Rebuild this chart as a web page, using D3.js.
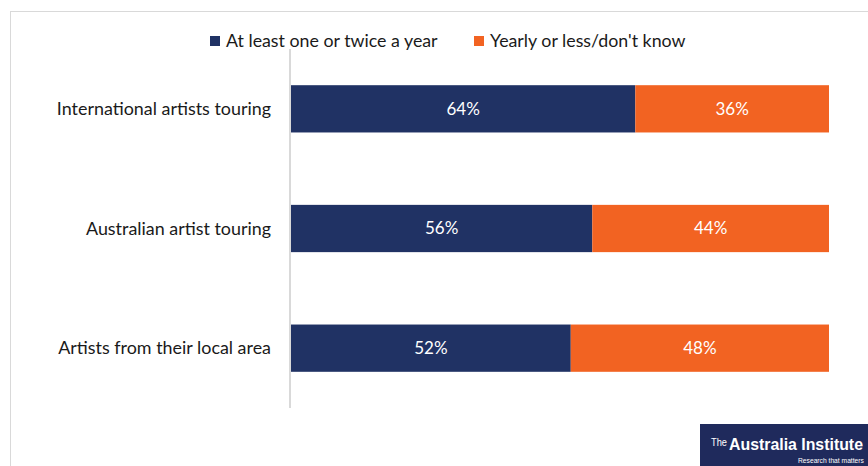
<!DOCTYPE html>
<html>
<head>
<meta charset="utf-8">
<script src="https://cdn.jsdelivr.net/npm/d3@7"></script>
<style>
  html, body { margin: 0; padding: 0; background: #fff; }
  svg { display: block; font-family: Lato, "Open Sans", "Liberation Sans", sans-serif; }
</style>
</head>
<body>
<svg id="chart" width="868" height="466"></svg>
<script>
// Share of respondents by how often they attend, per artist type
const categories = ["International artists touring", "Australian artist touring", "Artists from their local area"];
const seriesNames = ["At least one or twice a year", "Yearly or less/don't know"];
const frequent = [64, 56, 52];
const infrequent = [36, 44, 48];
const colors = ["#203264", "#F26322"];

const svg = d3.select("#chart");
const W = 868, H = 466;

// Outer frame
svg.append("rect").attr("x", 10.5).attr("y", 11.5).attr("width", W).attr("height", H)
  .attr("fill", "none").attr("stroke", "#d9d9d9").attr("stroke-width", 1);

const x = d3.scaleLinear().domain([0, 100]).range([291, 829]);
const y = d3.scaleBand().domain(categories).range([49, 408]).paddingInner(0.605).paddingOuter(0.3025);

// Vertical category axis line
svg.append("line").attr("x1", 290).attr("x2", 290).attr("y1", 49).attr("y2", 408)
  .attr("stroke", "#d9d9d9").attr("stroke-width", 2);

const rows = categories.map((c, i) => ({ cat: c, parts: [
  { v0: 0, v1: frequent[i], val: frequent[i], color: colors[0] },
  { v0: frequent[i], v1: frequent[i] + infrequent[i], val: infrequent[i], color: colors[1] }
]}));

const g = svg.append("g");
rows.forEach(r => {
  const gy = y(r.cat);
  r.parts.forEach(p => {
    g.append("rect").attr("x", x(p.v0)).attr("y", gy)
      .attr("width", x(p.v1) - x(p.v0)).attr("height", y.bandwidth()).attr("fill", p.color);
    g.append("text").attr("x", (x(p.v0) + x(p.v1)) / 2).attr("y", gy + y.bandwidth() / 2)
      .attr("dy", "0.35em").attr("text-anchor", "middle").attr("fill", "#fff")
      .attr("font-size", 17).text(p.val + "%");
  });
  svg.append("text").attr("x", 271).attr("y", gy + y.bandwidth() / 2).attr("dy", "0.35em")
    .attr("text-anchor", "end").attr("fill", "#1a1a1a").attr("font-size", 17.9).text(r.cat);
});

// Legend
const legendX = [210, 474];
seriesNames.forEach((s, i) => {
  svg.append("rect").attr("x", legendX[i]).attr("y", 36).attr("width", 10).attr("height", 10).attr("fill", colors[i]);
  svg.append("text").attr("x", legendX[i] + 16).attr("y", 41).attr("dy", "0.35em")
    .attr("fill", "#1a1a1a").attr("font-size", 17.8).text(s);
});

// Publisher badge: condensed lettering squeezed horizontally to a set width
const logo = svg.append("g");
logo.append("rect").attr("x", 700).attr("y", 424).attr("width", 168).attr("height", 42).attr("fill", "#1f2a5c");
function badgeText(str, x0, y0, size, weight, width) {
  const t = logo.append("text").attr("fill", "#fff").attr("font-size", size)
    .attr("font-weight", weight).attr("font-family", "Arial, 'Liberation Sans', sans-serif").text(str);
  const natural = t.node().getComputedTextLength();
  t.attr("transform", `translate(${x0},${y0}) scale(${width / natural},1)`);
}
badgeText("The", 711, 446, 10, 400, 16);
badgeText("Australia Institute", 729, 450, 17, 600, 134);
badgeText("Research that matters", 798, 463, 7, 400, 66);
</script>
</body>
</html>
